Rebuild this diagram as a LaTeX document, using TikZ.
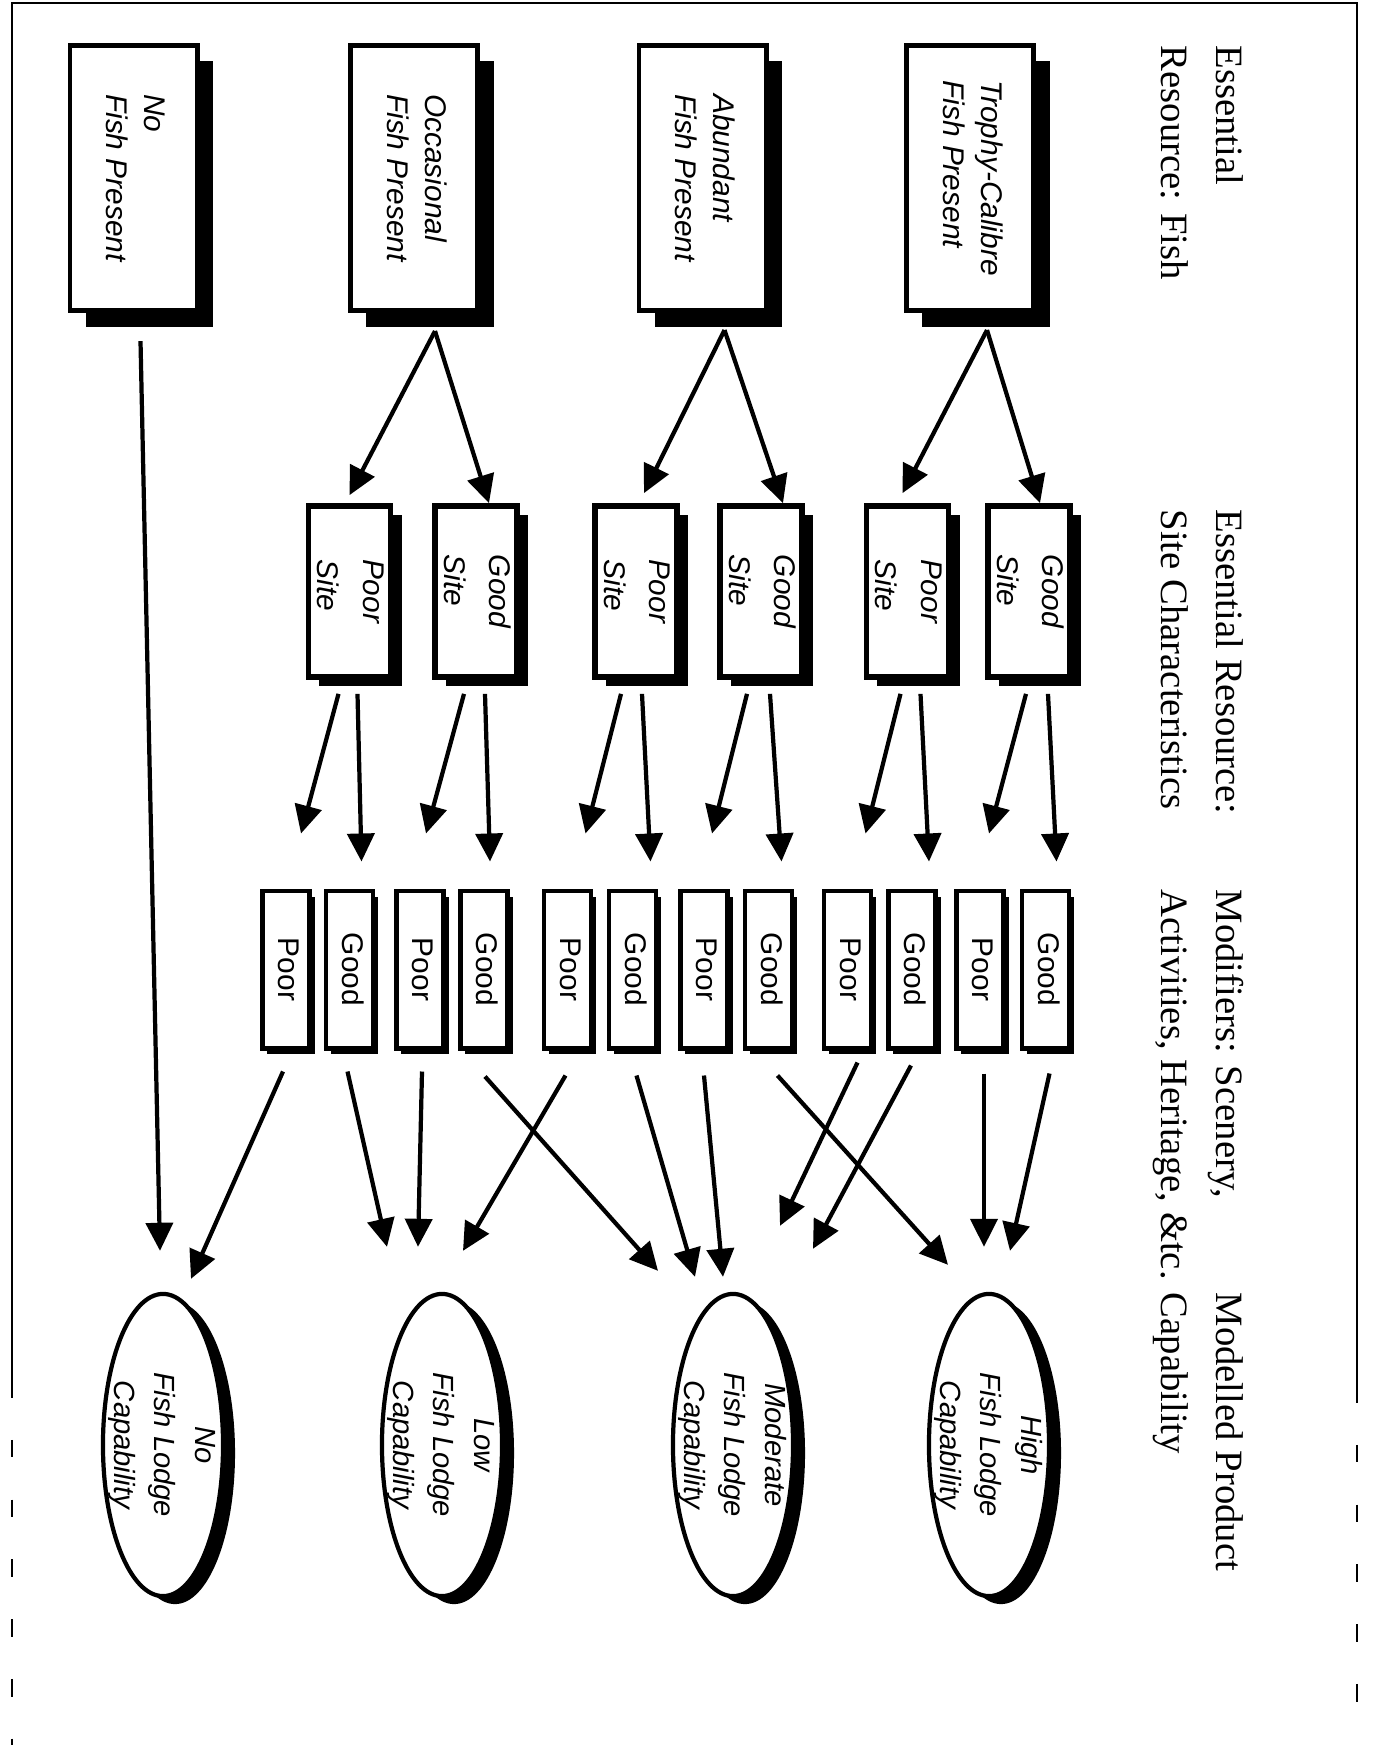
\documentclass[tikz,border=0pt]{standalone}
\usepackage{fontspec}
\setmainfont{Liberation Serif}
\setsansfont{Liberation Sans}
\usetikzlibrary{shapes.geometric,shadows,arrows.meta,calc}
\newcommand{\vt}[2][l]{\makebox[0pt]{\rotatebox{-90}{\begin{tabular}{@{}#1@{}}#2\end{tabular}}}}

\begin{document}
\begin{tikzpicture}[x=0.01cm,y=-0.01cm,
  fishbox/.style={draw,line width=1.4pt,fill=white,inner sep=0pt,minimum width=1.27cm,minimum height=2.65cm,
    font=\fontsize{8.5}{10.8}\selectfont\sffamily\itshape,
    drop shadow={shadow xshift=0.16cm,shadow yshift=-0.16cm,fill=black,opacity=1}},
  sitebox/.style={draw,line width=1.6pt,fill=white,inner sep=0pt,minimum width=0.82cm,minimum height=1.71cm,
    font=\fontsize{8.5}{13}\selectfont\sffamily\itshape,
    drop shadow={shadow xshift=0.11cm,shadow yshift=-0.09cm,fill=black,opacity=1}},
  modbox/.style={draw,line width=1.4pt,fill=white,inner sep=0pt,minimum width=0.47cm,minimum height=1.57cm,
    font=\fontsize{8.5}{10}\selectfont\sffamily,
    drop shadow={shadow xshift=0.05cm,shadow yshift=-0.06cm,fill=black,opacity=1}},
  capell/.style={ellipse,draw,line width=1.2pt,fill=white,inner sep=0pt,minimum width=1.2cm,minimum height=3.02cm,
    font=\fontsize{8.3}{11.5}\selectfont\sffamily\itshape,
    drop shadow={shadow xshift=0.12cm,shadow yshift=-0.08cm,fill=black,opacity=1}},
  head/.style={rotate=-90,anchor=north west,align=left,inner sep=0pt,font=\fontsize{11}{15.6}\selectfont},
  arr/.style={line width=1.2pt,-{Triangle[length=0.28cm,width=0.27cm]}}]

\fill[white] (0,0) rectangle (1373,1754);
\useasboundingbox (0,0) rectangle (1373,1754);

% page frame
\draw[line width=0.8pt] (12,1380) -- (12,3) -- (1357,3) -- (1357,1385);
\draw[line width=0.5pt,dash pattern=on 5pt off 12pt] (12,1380) -- (12,1745);
\draw[line width=0.5pt,dash pattern=on 5pt off 12pt] (1357,1385) -- (1357,1730);

\node[head] (h1) at (1244,45)   {Essential\\Resource: Fish};
\node[head] (h2) at (1244,509)  {Essential Resource:\\Site Characteristics};
\node[head] (h3) at (1244,889)  {Modifiers: Scenery,\\Activities, Heritage, \&tc.};
\node[head] (h4) at (1244,1292) {Modelled Product\\Capability};

\node[fishbox] (fno)  at (133.5,178) {\vt{No\\Fish Present}};
\node[fishbox] (focc) at (414,178)   {\vt{Occasional\\Fish Present}};
\node[fishbox] (fabu) at (702.5,178) {\vt{Abundant\\Fish Present}};
\node[fishbox] (ftro) at (970,178)   {\vt{Trophy-Calibre\\Fish Present}};

\node[sitebox] (s1p) at (349.5,591.5) {\vt{Poor\\Site}};
\node[sitebox] (s1g) at (476,591.5)   {\vt{Good\\Site}};
\node[sitebox] (s2p) at (636,591.5)   {\vt{Poor\\Site}};
\node[sitebox] (s2g) at (761,591.5)   {\vt{Good\\Site}};
\node[sitebox] (s3p) at (907.5,591.5) {\vt{Poor\\Site}};
\node[sitebox] (s3g) at (1029,591.5)  {\vt{Good\\Site}};

\foreach \i/\x/\t in {1/286/Poor,2/349.5/Good,3/420/Poor,4/484/Good,5/567.5/Poor,6/632.5/Good,
                      7/704/Poor,8/768.5/Good,9/847.5/Poor,10/912/Good,11/980/Poor,12/1045.5/Good}
  \node[modbox] (m\i) at (\x,969.5) {\vt{\t}};

\node[capell] (cno)   at (163,1445) {\vt[c]{No\\Fish Lodge\\Capability}};
\node[capell] (clow)  at (442,1445) {\vt[c]{Low\\Fish Lodge\\Capability}};
\node[capell] (cmod)  at (733,1445) {\vt[c]{Moderate\\Fish Lodge\\Capability}};
\node[capell] (chigh) at (989,1445) {\vt[c]{High\\Fish Lodge\\Capability}};

\draw[arr] ($(focc.south)+(21,18)$) -- ($(s1p.north)+(0,-8)$);
\draw[arr] ($(focc.south)+(21,18)$) -- ($(s1g.north)+(13,0)$);
\draw[arr] ($(fabu.south)+(22,17)$) -- ($(s2p.north)+(8,-10)$);
\draw[arr] ($(fabu.south)+(22,17)$) -- ($(s2g.north)+(22,0)$);
\draw[arr] ($(ftro.south)+(17,17)$) -- ($(s3p.north)+(-5,-10)$);
\draw[arr] ($(ftro.south)+(17,17)$) -- ($(s3g.north)+(11,0)$);
\draw[arr] ($(fno.south)+(7,28)$) -- ($(cno.north)+(-3,-41)$);

\draw[arr] ($(s1p.south)+(-11,14)$) -- ($(m1.north)+(15,-55)$);
\draw[arr] ($(s1p.south)+(8,14)$)   -- ($(m2.north)+(12,-27)$);
\draw[arr] ($(s1g.south)+(-12,14)$) -- ($(m3.north)+(6,-55)$);
\draw[arr] ($(s1g.south)+(9,14)$)   -- ($(m4.north)+(6,-27)$);
\draw[arr] ($(s2p.south)+(-15,14)$) -- ($(m5.north)+(18,-55)$);
\draw[arr] ($(s2p.south)+(6,14)$)   -- ($(m6.north)+(18,-27)$);
\draw[arr] ($(s2g.south)+(-14,14)$) -- ($(m7.north)+(8,-55)$);
\draw[arr] ($(s2g.south)+(9,14)$)   -- ($(m8.north)+(13,-27)$);
\draw[arr] ($(s3p.south)+(-7,14)$)  -- ($(m9.north)+(18,-55)$);
\draw[arr] ($(s3p.south)+(13,14)$)  -- ($(m10.north)+(17,-27)$);
\draw[arr] ($(s3g.south)+(-3,14)$)  -- ($(m11.north)+(9,-55)$);
\draw[arr] ($(s3g.south)+(19,14)$)  -- ($(m12.north)+(11,-27)$);

\draw[arr] ($(m1.south)+(-3,21)$)   -- ($(cno.north)+(28,-13)$);
\draw[arr] ($(m2.south)+(-2,21)$)   -- ($(clow.north)+(-55,-45)$);
\draw[arr] ($(m3.south)+(2,21)$)    -- ($(clow.north)+(-24,-45)$);
\draw[arr] ($(m4.south)+(1,26)$)    -- ($(cmod.north)+(-75,-21)$);
\draw[arr] ($(m5.south)+(-2,25)$)   -- ($(clow.north)+(21,-41)$);
\draw[arr] ($(m6.south)+(4,25)$)    -- ($(cmod.north)+(-38,-15)$);
\draw[arr] ($(m7.south)+(0,25)$)    -- ($(cmod.north)+(-10,-15)$);
\draw[arr] ($(m8.south)+(9,25)$)    -- ($(chigh.north)+(-41,-27)$);
\draw[arr] ($(m9.south)+(10,12)$)   -- ($(cmod.north)+(47,-66)$);
\draw[arr] ($(m10.south)+(-1,15)$)  -- ($(cmod.north)+(80,-43)$);
\draw[arr] ($(m11.south)+(4,23)$)   -- ($(chigh.north)+(-5,-45)$);
\draw[arr] ($(m12.south)+(4,23)$)   -- ($(chigh.north)+(21,-41)$);

\end{tikzpicture}
\end{document}
